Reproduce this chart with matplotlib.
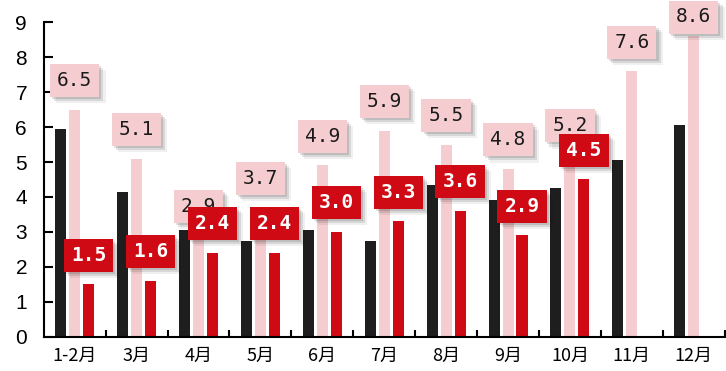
import matplotlib
matplotlib.use("Agg")
import matplotlib.pyplot as plt
import matplotlib.patheffects as pe
import numpy as np

# Monthly values for the three series
categories = ["1-2月", "3月", "4月", "5月", "6月", "7月", "8月", "9月", "10月", "11月", "12月"]
black_vals = [5.95, 4.15, 3.05, 2.75, 3.05, 2.75, 4.35, 3.9, 4.25, 5.05, 6.05]
pink_vals = [6.5, 5.1, 2.9, 3.7, 4.9, 5.9, 5.5, 4.8, 5.2, 7.6, 8.6]
red_vals = [1.5, 1.6, 2.4, 2.4, 3.0, 3.3, 3.6, 2.9, 4.5, None, None]
y_ticks = list(range(10))

BLACK = "#1e1e1e"
PINK = "#f5cdd0"
RED = "#cf0a14"

fig = plt.figure(figsize=(7.26, 3.71), dpi=100)
ax = fig.add_axes([0.0602, 0.0925, 0.938, 0.8475])

x = np.arange(len(categories))
off = 0.226
w = 0.178

ax.bar(x - off, black_vals, width=w, color=BLACK, zorder=2)
ax.bar(x, pink_vals, width=w, color=PINK, zorder=2)
rx = [xi + off for xi, v in zip(x, red_vals) if v is not None]
rv = [v for v in red_vals if v is not None]
ax.bar(rx, rv, width=w, color=RED, zorder=2)

ax.set_xlim(-0.5, len(categories) - 0.5)
ax.set_ylim(0, 9)

shadow = [
    pe.SimplePatchShadow(offset=(1.5, -1.5), shadow_rgbFace="k", alpha=0.12),
    pe.SimplePatchShadow(offset=(3, -3), shadow_rgbFace="k", alpha=0.10),
    pe.SimplePatchShadow(offset=(4.5, -4.5), shadow_rgbFace="k", alpha=0.06),
    pe.Normal(),
]

fig_h_px = fig.get_figheight() * fig.dpi


def label(xi, v, fc, tc, weight, z):
    # keep the box inside the figure when the bar reaches the top
    top_px = ax.transData.transform((xi, v))[1]
    room_pt = (fig_h_px - top_px - 17) * 72 / fig.dpi
    dy = min(21, room_pt)
    t = ax.annotate(f"{v:.1f}", xy=(xi, v), xytext=(0, dy),
                    textcoords="offset points", ha="center", va="center",
                    fontsize=14, family="DejaVu Sans Mono", color=tc,
                    fontweight=weight, zorder=z, annotation_clip=False,
                    bbox=dict(boxstyle="square,pad=0.36", fc=fc, ec="none"))
    t.get_bbox_patch().set_path_effects(shadow)


for xi, v in zip(x, pink_vals):
    label(xi, v, PINK, "#1a1a1a", "normal", 5)
for xi, v in zip(rx, rv):
    label(xi, v, RED, "white", "bold", 6)

ax.set_yticks(y_ticks)
ax.set_yticklabels([str(t) for t in y_ticks], family="Liberation Sans", fontsize=15)
ax.tick_params(axis="y", direction="in", length=6.5, width=1.5, pad=12)

ax.set_xticks(x)
ax.set_xticklabels(categories, family=["Noto Sans CJK SC", "DejaVu Sans"], fontsize=13)
ax.tick_params(axis="x", which="major", length=0, pad=7.5)
ax.set_xticks(np.arange(0.5, len(categories), 1.0), minor=True)
ax.tick_params(axis="x", which="minor", direction="in", length=5, width=1.5)

for s in ["top", "right"]:
    ax.spines[s].set_visible(False)
for s in ["left", "bottom"]:
    ax.spines[s].set_linewidth(1.5)
    ax.spines[s].set_color("black")

fig.savefig("out.png", dpi=100)
